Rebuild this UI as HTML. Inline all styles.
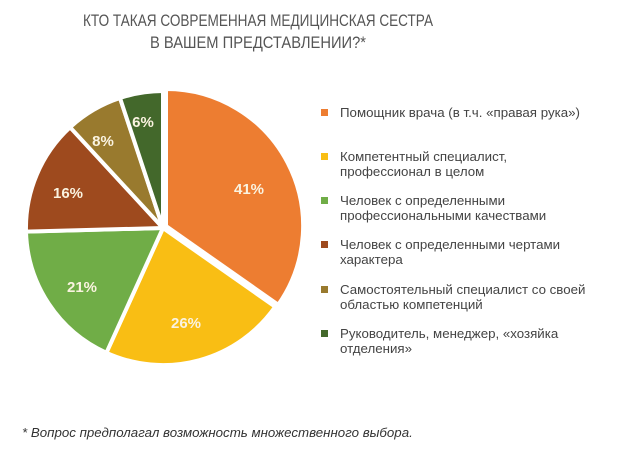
<!DOCTYPE html>
<html><head><meta charset="utf-8"><style>
body{margin:0;background:#fff;width:620px;height:453px;overflow:hidden;font-family:"Liberation Sans",sans-serif}
</style></head><body>
<svg width="620" height="453" xmlns="http://www.w3.org/2000/svg" font-family="Liberation Sans, sans-serif">
<text x="83" y="26" textLength="350" lengthAdjust="spacingAndGlyphs" font-size="17" fill="#555">КТО ТАКАЯ СОВРЕМЕННАЯ МЕДИЦИНСКАЯ СЕСТРА</text>
<text x="150" y="48" textLength="216" lengthAdjust="spacingAndGlyphs" font-size="17" fill="#555">В ВАШЕМ ПРЕДСТАВЛЕНИИ?*</text>
<g stroke="#fff" stroke-width="4" stroke-linejoin="miter">
<path d="M166,226 L166,89 A137,137 0 0 1 278.2,304.8 Z" fill="#ED7D31"/>
<path d="M163,228 L275.2,306.8 A137,137 0 0 1 106.4,352.8 Z" fill="#F9BE14"/>
<path d="M163,228 L106.4,352.8 A137,137 0 0 1 26,231.6 Z" fill="#70AD47"/>
<path d="M163,228 L26,231.6 A137,137 0 0 1 70.1,127.3 Z" fill="#9E4A1E"/>
<path d="M163,228 L70.1,127.3 A137,137 0 0 1 120,98 Z" fill="#997A2E"/>
<path d="M163,228 L120,98 A137,137 0 0 1 163,91 Z" fill="#43682B"/>
</g>
<g font-size="15" font-weight="bold" fill="#FAF3E0" text-anchor="middle">
<text x="249" y="194">41%</text>
<text x="186" y="328">26%</text>
<text x="82" y="292">21%</text>
<text x="68" y="198">16%</text>
<text x="103" y="146">8%</text>
<text x="143" y="127">6%</text>
</g>
<g font-size="13.3" fill="#444">
<rect x="321" y="109" width="7" height="7" fill="#ED7D31"/>
<text x="340" y="117">Помощник врача (в т.ч. «правая рука»)</text>
<rect x="321" y="153" width="7" height="7" fill="#F9BE14"/>
<text x="340" y="161">Компетентный специалист,</text>
<text x="340" y="176">профессионал в целом</text>
<rect x="321" y="197" width="7" height="7" fill="#70AD47"/>
<text x="340" y="205">Человек с определенными</text>
<text x="340" y="220">профессиональными качествами</text>
<rect x="321" y="241" width="7" height="7" fill="#9E4A1E"/>
<text x="340" y="249">Человек с определенными чертами</text>
<text x="340" y="264">характера</text>
<rect x="321" y="286" width="7" height="7" fill="#997A2E"/>
<text x="340" y="294">Самостоятельный специалист со своей</text>
<text x="340" y="309">областью компетенций</text>
<rect x="321" y="330" width="7" height="7" fill="#43682B"/>
<text x="340" y="338">Руководитель, менеджер, «хозяйка</text>
<text x="340" y="353">отделения»</text>
</g>
<text x="22" y="437" font-size="13.3" font-style="italic" fill="#333">* Вопрос предполагал возможность множественного выбора.</text>
</svg>
</body></html>
